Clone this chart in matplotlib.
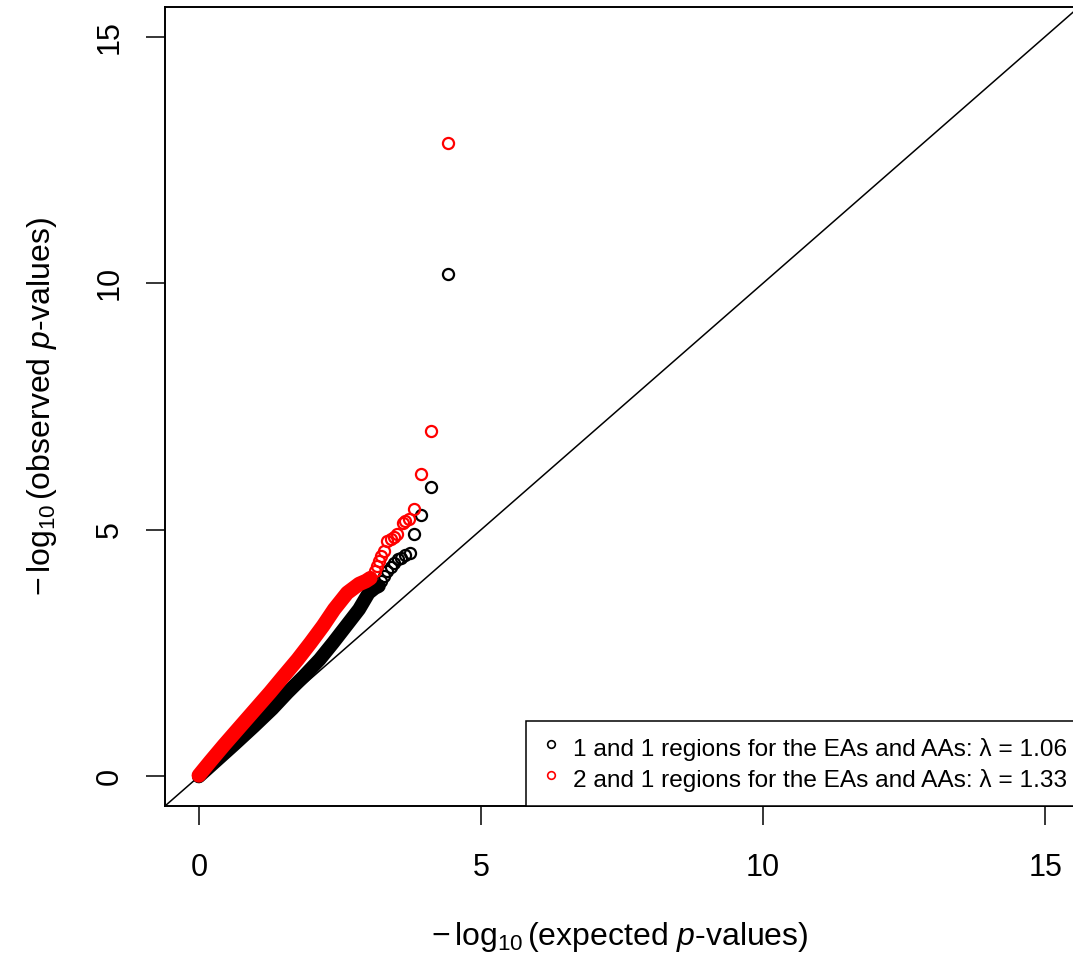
import matplotlib
matplotlib.use("Agg")
import matplotlib.pyplot as plt
from matplotlib.lines import Line2D

plt.rcParams["font.family"] = ["Liberation Sans", "DejaVu Sans"]
plt.rcParams["mathtext.fontset"] = "custom"
plt.rcParams["mathtext.rm"] = "Liberation Sans"
plt.rcParams["mathtext.it"] = "Liberation Sans:italic"

# dense part of each QQ curve (read along the band centre)
black_band_x = [0.00, 0.30, 0.62, 0.98, 1.30, 1.57, 1.86, 2.14, 2.38, 2.61, 2.84, 3.01, 3.12, 3.19]
black_band_y = [0.00, 0.31, 0.64, 1.02, 1.37, 1.70, 2.03, 2.37, 2.71, 3.05, 3.39, 3.72, 3.82, 3.86]
red_band_x = [0.00, 0.20, 0.45, 0.74, 1.00, 1.26, 1.50, 1.75, 1.98, 2.20, 2.40, 2.63, 2.84, 2.96, 3.04]
red_band_y = [0.02, 0.30, 0.64, 1.02, 1.36, 1.70, 2.03, 2.37, 2.71, 3.05, 3.39, 3.72, 3.90, 3.96, 4.02]

# sparse tail points
black_tail_x = [3.23, 3.28, 3.34, 3.40, 3.46, 3.53, 3.59, 3.66, 3.74, 3.81, 3.94, 4.12, 4.42]
black_tail_y = [3.96, 4.06, 4.16, 4.25, 4.33, 4.40, 4.43, 4.48, 4.53, 4.92, 5.29, 5.86, 10.18]
red_tail_x = [3.13, 3.16, 3.19, 3.23, 3.28, 3.34, 3.40, 3.45, 3.51, 3.61, 3.66, 3.72, 3.82, 3.94, 4.12, 4.42]
red_tail_y = [4.16, 4.26, 4.37, 4.47, 4.57, 4.77, 4.81, 4.86, 4.91, 5.14, 5.18, 5.21, 5.43, 6.14, 7.00, 12.85]

labels = ["1 and 1 regions for the EAs and AAs: \u03bb = 1.06",
          "2 and 1 regions for the EAs and AAs: \u03bb = 1.33"]
ticks = [0, 5, 10, 15]

fig = plt.figure(figsize=(10.73, 9.58), dpi=100)
ax = fig.add_axes([165 / 1073, 152 / 958, 914 / 1073, 799 / 958])

ax.axline((0, 0), slope=1, color="black", lw=1.1)

ax.plot(black_band_x, black_band_y, color="black", lw=10, solid_capstyle="round", solid_joinstyle="round")
ax.plot(black_tail_x, black_tail_y, "o", ms=8, mfc="none", mec="black", mew=1.6)
ax.plot(red_band_x, red_band_y, color="#ff0000", lw=10.5, solid_capstyle="round", solid_joinstyle="round")
ax.plot(red_tail_x, red_tail_y, "o", ms=8, mfc="none", mec="#ff0000", mew=1.6)

ax.set_xlim(-0.6, 15.6)
ax.set_ylim(-0.6, 15.6)
ax.set_xticks(ticks)
ax.set_yticks(ticks)
ax.tick_params(length=13.7, width=1.1, labelsize=22)
ax.tick_params(axis="x", pad=20)
ax.tick_params(axis="y", pad=15.5)
for lbl in ax.get_yticklabels():
    lbl.set_rotation(90)
    lbl.set_va("center")
for sp in ax.spines.values():
    sp.set_linewidth(1.4)

ax.set_xlabel(r"$-\,\log_{10}$(expected $p$-values)", fontsize=23, va="center")
ax.xaxis.set_label_coords(620 / 1073, 21 / 958, transform=fig.transFigure)
ax.set_ylabel(r"$-\,\log_{10}$(observed $p$-values)", fontsize=23, va="center")
ax.yaxis.set_label_coords(42 / 1073, 552 / 958, transform=fig.transFigure)

handles = [Line2D([], [], ls="none", marker="o", ms=5.5, mfc="none", mec="black", mew=1.2),
           Line2D([], [], ls="none", marker="o", ms=5.5, mfc="none", mec="#ff0000", mew=1.2)]
leg = ax.legend(handles, labels, loc="lower right", bbox_to_anchor=(1, 0), borderaxespad=0,
                fontsize=17.6, frameon=True, fancybox=False, edgecolor="black", framealpha=1,
                handlelength=1.0, handleheight=1.5, handletextpad=0.4, borderpad=0.5,
                labelspacing=0.05)
leg.get_frame().set_linewidth(1.1)

fig.savefig("out.png", dpi=100)
